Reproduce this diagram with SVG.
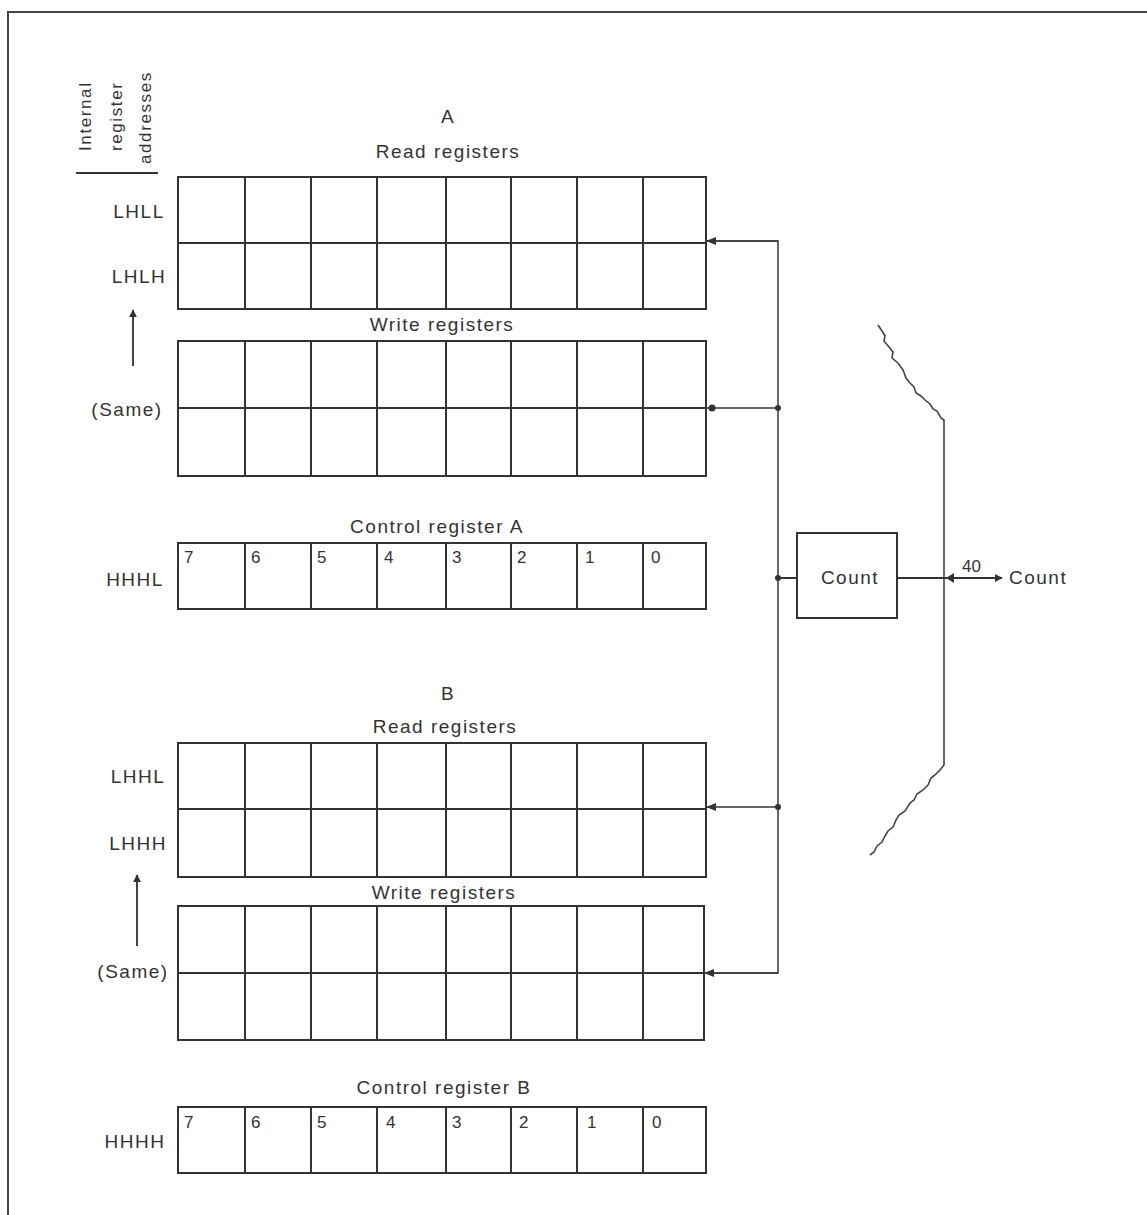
<svg xmlns="http://www.w3.org/2000/svg" width="1147" height="1215" viewBox="0 0 1147 1215">
<defs>
<marker id="ah" viewBox="0 0 10 10" refX="9" refY="5" markerWidth="8" markerHeight="8" orient="auto" markerUnits="userSpaceOnUse"><path d="M0,0 L10,5 L0,10 z" fill="#333"/></marker>
<marker id="ahs" viewBox="0 0 10 10" refX="9" refY="5" markerWidth="12" markerHeight="10" orient="auto" markerUnits="userSpaceOnUse"><path d="M0,1 L10,5 L0,9 z" fill="#333"/></marker>
</defs>
<style>
.t{font-family:"Liberation Sans",Arial,sans-serif;font-size:19px;letter-spacing:1.5px;fill:#333}
.h{font-family:"Liberation Sans",Arial,sans-serif;font-size:17px;letter-spacing:1.6px;fill:#333}
.d{font-family:"Liberation Sans",Arial,sans-serif;font-size:17px;fill:#333}
.g{fill:none;stroke:#333;stroke-width:2}
.w{fill:none;stroke:#444;stroke-width:1.6}
.c{fill:none;stroke:#444;stroke-width:2}
</style>
<rect width="1147" height="1215" fill="#fff"/>
<g id="frame" class="c"><path d="M8,1215 V12 H1147"/></g>

<g id="header">
<text class="h" transform="translate(91,151) rotate(-90)">Internal</text>
<text class="h" transform="translate(122,151) rotate(-90)">register</text>
<text class="h" transform="translate(151,164) rotate(-90)">addresses</text>
<line x1="76" y1="173" x2="158" y2="173" stroke="#333" stroke-width="2"/>
</g>

<g id="labels" text-anchor="middle">
<text class="t" x="448" y="123">A</text>
<text class="t" x="448" y="158">Read registers</text>
<text class="t" x="442" y="331">Write registers</text>
<text class="t" x="437" y="533">Control register A</text>
<text class="t" x="448" y="700">B</text>
<text class="t" x="445" y="733">Read registers</text>
<text class="t" x="444" y="899">Write registers</text>
<text class="t" x="444" y="1094">Control register B</text>
<text class="t" x="139" y="218">LHLL</text>
<text class="t" x="139" y="283">LHLH</text>
<text class="t" x="127" y="416">(Same)</text>
<text class="t" x="135" y="586">HHHL</text>
<text class="t" x="138" y="783">LHHL</text>
<text class="t" x="138" y="850">LHHH</text>
<text class="t" x="133" y="978">(Same)</text>
<text class="t" x="135" y="1148">HHHH</text>
</g>
<g id="addr-arrows">
<line x1="133" y1="366" x2="133" y2="310" stroke="#444" stroke-width="2" marker-end="url(#ah)"/>
<line x1="137" y1="946" x2="137" y2="875" stroke="#444" stroke-width="2" marker-end="url(#ah)"/>
</g>

<g id="readA" class="g">
<rect x="178" y="177" width="528" height="132"/>
<path d="M178,243 H706 M245,177 V309 M311,177 V309 M377,177 V309 M446,177 V309 M511,177 V309 M577,177 V309 M643,177 V309"/>
</g>
<g id="writeA" class="g">
<rect x="178" y="341" width="528" height="135"/>
<path d="M178,408 H706 M245,341 V476 M311,341 V476 M377,341 V476 M446,341 V476 M511,341 V476 M577,341 V476 M643,341 V476"/>
</g>
<g id="ctrlA">
<g class="g">
<rect x="178" y="543" width="528" height="66"/>
<path d="M245,543 V609 M311,543 V609 M377,543 V609 M446,543 V609 M511,543 V609 M577,543 V609 M643,543 V609"/>
</g>
<g class="d">
<text x="184" y="563">7</text><text x="251" y="563">6</text><text x="317" y="563">5</text><text x="384" y="563">4</text><text x="452" y="563">3</text><text x="517" y="563">2</text><text x="585" y="563">1</text><text x="651" y="563">0</text>
</g>
</g>
<g id="readB" class="g">
<rect x="178" y="743" width="528" height="134"/>
<path d="M178,809 H706 M245,743 V877 M311,743 V877 M377,743 V877 M446,743 V877 M511,743 V877 M577,743 V877 M643,743 V877"/>
</g>
<g id="writeB" class="g">
<rect x="178" y="906" width="526" height="134"/>
<path d="M178,973 H704 M245,906 V1040 M311,906 V1040 M377,906 V1040 M446,906 V1040 M511,906 V1040 M577,906 V1040 M643,906 V1040"/>
</g>
<g id="ctrlB">
<g class="g">
<rect x="178" y="1107" width="528" height="66"/>
<path d="M245,1107 V1173 M311,1107 V1173 M377,1107 V1173 M446,1107 V1173 M511,1107 V1173 M577,1107 V1173 M643,1107 V1173"/>
</g>
<g class="d">
<text x="184" y="1128">7</text><text x="251" y="1128">6</text><text x="317" y="1128">5</text><text x="386" y="1128">4</text><text x="452" y="1128">3</text><text x="519" y="1128">2</text><text x="587" y="1128">1</text><text x="652" y="1128">0</text>
</g>
</g>

<g id="count-box">
<rect x="797" y="533" width="100" height="85" class="g"/>
<text class="t" x="850" y="584" text-anchor="middle">Count</text>
</g>

<g id="connectors">
<path d="M706,241 H778 V973 H704" class="w"/>
<line x1="778" y1="241" x2="707" y2="241" stroke="#333" stroke-width="1.6" marker-end="url(#ahs)"/>
<line x1="778" y1="408" x2="706" y2="408" stroke="#333" stroke-width="1.6"/>
<circle cx="712" cy="408" r="3.5" fill="#333"/>
<circle cx="778" cy="408" r="3" fill="#333"/>
<line x1="778" y1="807" x2="707" y2="807" stroke="#333" stroke-width="1.6" marker-end="url(#ahs)"/>
<circle cx="778" cy="807" r="3" fill="#333"/>
<line x1="778" y1="973" x2="705" y2="973" stroke="#333" stroke-width="1.6" marker-end="url(#ahs)"/>
<line x1="778" y1="578" x2="797" y2="578" stroke="#333" stroke-width="2"/>
<circle cx="778" cy="578" r="3" fill="#333"/>
<line x1="897" y1="578" x2="1002" y2="578" stroke="#333" stroke-width="2" marker-end="url(#ah)"/>
<path d="M946,578 L954,573 L954,583 z" fill="#333"/>
<text class="d" x="962" y="572">40</text>
<text class="t" x="1009" y="584">Count</text>
</g>

<g id="boundary" class="w">
<path d="M878,325 L882,331 L885,336 L884,341 L889,347 L893,352 L892,358 L898,363 L903,370 L906,378 L910,383 L914,387 L916,393 L921,396 L925,400 L930,404 L933,409 L937,411 L941,418 L944,420 V765 L940,770 L935,775 L931,778 L928,785 L923,790 L917,794 L914,800 L910,803 L905,811 L899,815 L896,820 L893,827 L888,831 L885,836 L882,842 L877,846 L874,852 L870,855"/>
</g>
</svg>
